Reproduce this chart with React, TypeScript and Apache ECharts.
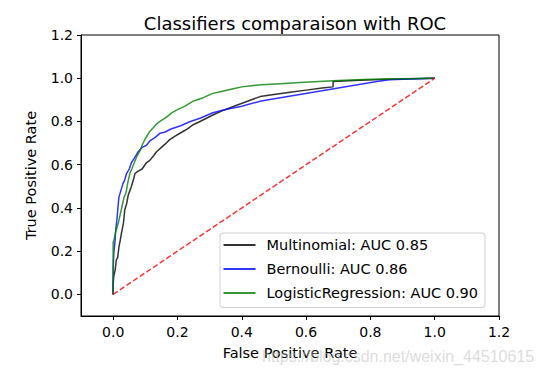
import React, { useEffect, useRef } from "react";
import * as echarts from "echarts";

const tickValues = [0, 0.2, 0.4, 0.6, 0.8, 1.0, 1.2];

const multinomial: [number, number][] = [
  [0, 0], [0, 0.05], [0.002, 0.085], [0.006, 0.11], [0.01, 0.16], [0.014, 0.17], [0.018, 0.22],
  [0.022, 0.25], [0.026, 0.285], [0.032, 0.33], [0.036, 0.39], [0.042, 0.42], [0.047, 0.46],
  [0.052, 0.48], [0.057, 0.5], [0.063, 0.53], [0.068, 0.56], [0.078, 0.57], [0.09, 0.58],
  [0.104, 0.61], [0.114, 0.62], [0.125, 0.64], [0.135, 0.66], [0.15, 0.68], [0.165, 0.7],
  [0.176, 0.716], [0.19, 0.73], [0.213, 0.75], [0.23, 0.765], [0.249, 0.785], [0.27, 0.8],
  [0.29, 0.815], [0.31, 0.83], [0.34, 0.85], [0.384, 0.875], [0.42, 0.895], [0.457, 0.915],
  [0.5, 0.925], [0.55, 0.935], [0.6, 0.945], [0.65, 0.955], [0.684, 0.96], [0.684, 0.985],
  [0.75, 0.99], [0.85, 0.995], [1, 1],
];

const bernoulli: [number, number][] = [
  [0, 0], [0, 0.12], [0.002, 0.19], [0.006, 0.25], [0.008, 0.3], [0.012, 0.35], [0.016, 0.42],
  [0.018, 0.45], [0.024, 0.48], [0.03, 0.51], [0.036, 0.53], [0.042, 0.56], [0.05, 0.58],
  [0.057, 0.61], [0.066, 0.63], [0.078, 0.66], [0.09, 0.68], [0.104, 0.69], [0.114, 0.71],
  [0.13, 0.725], [0.145, 0.745], [0.16, 0.75], [0.18, 0.765], [0.21, 0.78], [0.24, 0.8],
  [0.27, 0.815], [0.31, 0.84], [0.35, 0.855], [0.4, 0.87], [0.46, 0.895], [0.52, 0.91],
  [0.58, 0.925], [0.64, 0.94], [0.7, 0.955], [0.76, 0.97], [0.82, 0.985], [0.86, 0.993],
  [0.92, 0.997], [1, 1],
];

const logistic: [number, number][] = [
  [0, 0], [0, 0.24], [0.004, 0.26], [0.008, 0.29], [0.012, 0.31], [0.016, 0.33], [0.022, 0.37],
  [0.028, 0.41], [0.034, 0.45], [0.04, 0.47], [0.046, 0.52], [0.052, 0.56], [0.058, 0.58],
  [0.066, 0.61], [0.074, 0.64], [0.082, 0.66], [0.09, 0.69], [0.1, 0.72], [0.112, 0.75],
  [0.124, 0.77], [0.136, 0.79], [0.15, 0.805], [0.166, 0.82], [0.182, 0.84], [0.2, 0.855],
  [0.222, 0.87], [0.25, 0.895], [0.28, 0.91], [0.31, 0.93], [0.34, 0.94], [0.37, 0.95],
  [0.4, 0.96], [0.43, 0.965], [0.46, 0.97], [0.52, 0.975], [0.58, 0.98], [0.64, 0.985],
  [0.7, 0.99], [0.8, 0.995], [0.9, 0.998], [1, 1],
];

const chance: [number, number][] = [[0, 0], [1, 1]];

const seriesNames = [
  "Multinomial: AUC 0.85",
  "Bernoulli: AUC 0.86",
  "LogisticRegression: AUC 0.90",
];

const FONT = "DejaVu Sans";

export default function App() {
  const ref = useRef<HTMLDivElement>(null);
  useEffect(() => {
    if (!ref.current) return;
    const chart = echarts.init(ref.current, undefined, { renderer: "svg" });
    const axisCommon = {
      type: "value" as const,
      min: -0.1,
      max: 1.2,
      splitLine: { show: false },
      axisLine: { show: true, onZero: false, lineStyle: { color: "#000", width: 1 } },
      axisTick: {
        show: true,
        length: 4,
        customValues: tickValues,
        lineStyle: { color: "#000" },
      },
      nameLocation: "middle" as const,
      nameTextStyle: { fontFamily: FONT, fontSize: 14.5, color: "#000" },
    };
    const labelCommon = {
      customValues: tickValues,
      formatter: (v: number) => v.toFixed(1),
      fontFamily: FONT,
      fontSize: 14,
      color: "#000",
    };
    chart.setOption({
      animation: false,
      backgroundColor: "#fff",
      title: {
        text: "Classifiers comparaison with ROC",
        left: 290,
        top: 9,
        textAlign: "center",
        textStyle: { fontFamily: FONT, fontSize: 18, fontWeight: "normal", color: "#000" },
      },
      grid: {
        left: 81,
        top: 35,
        right: 43,
        bottom: 61,
        show: true,
        borderColor: "#000",
        borderWidth: 1,
        backgroundColor: "transparent",
      },
      xAxis: {
        ...axisCommon,
        name: "False Positive Rate",
        nameGap: 29,
        axisLabel: { ...labelCommon, margin: 9 },
      },
      yAxis: {
        ...axisCommon,
        name: "True Positive Rate",
        nameGap: 42.5,
        nameRotate: 90,
        axisLabel: { ...labelCommon, margin: 8 },
      },
      legend: {
        data: seriesNames,
        orient: "vertical",
        left: 220,
        top: 233,
        padding: [3.5, 7, 6, 3.5],
        itemGap: 7,
        itemWidth: 32,
        itemHeight: 2,
        icon: "rect",
        backgroundColor: "rgba(255,255,255,0.8)",
        borderColor: "#d0d0d0",
        borderWidth: 1,
        borderRadius: 3,
        textStyle: {
          fontFamily: FONT,
          fontSize: 14.5,
          color: "#000",
          lineHeight: 17,
          padding: [0, 0, 0, 6],
        },
      },
      series: [
        {
          name: seriesNames[0],
          type: "line",
          data: multinomial,
          symbol: "none",
          lineStyle: { color: "#000", width: 1.5, opacity: 0.8 },
          itemStyle: { color: "rgba(0,0,0,0.8)" },
          z: 3,
        },
        {
          name: seriesNames[1],
          type: "line",
          data: bernoulli,
          symbol: "none",
          lineStyle: { color: "#0000ff", width: 1.5, opacity: 0.8 },
          itemStyle: { color: "rgba(0,0,255,0.8)" },
          z: 4,
        },
        {
          name: seriesNames[2],
          type: "line",
          data: logistic,
          symbol: "none",
          lineStyle: { color: "#008000", width: 1.5, opacity: 0.8 },
          itemStyle: { color: "rgba(0,128,0,0.8)" },
          z: 5,
        },
        {
          name: "Random",
          type: "line",
          data: chance,
          symbol: "none",
          lineStyle: { color: "#ff0000", width: 1.5, opacity: 0.8, type: [5.5, 2.5] },
          z: 6,
        },
      ],
      graphic: [
        {
          type: "text",
          left: 262,
          top: 348,
          silent: true,
          z: 100,
          style: {
            text: "https://blog.csdn.net/weixin_44510615",
            fontFamily: "Liberation Sans",
            fontSize: 16,
            fill: "rgba(190,190,190,0.55)",
          },
        },
      ],
    });
    return () => chart.dispose();
  }, []);
  return (
    <div
      ref={ref}
      style={{ position: "fixed", left: 0, top: 0, width: 542, height: 377, background: "#fff" }}
    />
  );
}
